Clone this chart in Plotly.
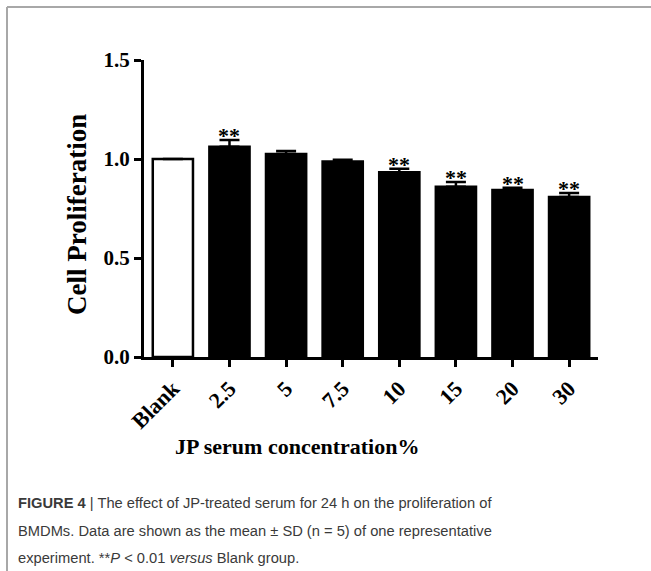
import plotly.graph_objects as go

categories = ["Blank", "2.5", "5", "7.5", "10", "15", "20", "30"]
means = [1.000, 1.062, 1.025, 0.988, 0.933, 0.860, 0.843, 0.808]
sds = [0.0, 0.034, 0.015, 0.008, 0.018, 0.024, 0.012, 0.020]
significant = [False, True, False, False, True, True, True, True]
fill_colors = ["white"] + ["black"] * 7
y_ticks = [0, 0.5, 1.0, 1.5]
y_tick_labels = ["0.0", "0.5", "1.0", "1.5"]

W, H = 651, 571
L, R, T, B = 144, 53, 60, 214
PW, PH = W - L - R, H - T - B

def px(x):
    return (x - L) / PW

def py(y):
    return (H - B - y) / PH

SERIF = "Liberation Serif, Times New Roman, serif"
SANS = "Liberation Sans, Arial, sans-serif"

idx = list(range(len(categories)))

fig = go.Figure()
fig.add_trace(go.Bar(
    x=idx, y=means, width=0.71,
    marker=dict(color=fill_colors, line=dict(color="black", width=2.5)),
    error_y=dict(type="data", array=sds, arrayminus=[0] * len(sds), symmetric=False,
                 color="black", thickness=2.5, width=10),
    showlegend=False,
))

annotations = []
for i, m, s, sig in zip(idx, means, sds, significant):
    if sig:
        annotations.append(dict(x=i, y=m + s, xref="x", yref="y", text="<b>**</b>",
                                showarrow=False, yanchor="bottom", yshift=-10,
                                font=dict(family=SERIF, size=22, color="black")))

annotations.append(dict(x=px(297), y=py(446), xref="paper", yref="paper",
                        text="<b>JP serum concentration%</b>", showarrow=False,
                        xanchor="center", yanchor="middle",
                        font=dict(family=SERIF, size=22, color="black")))
annotations.append(dict(x=px(77), y=py(215), xref="paper", yref="paper",
                        text="<b>Cell Proliferation</b>", showarrow=False, textangle=-90,
                        xanchor="center", yanchor="middle",
                        font=dict(family=SERIF, size=27, color="black")))

caption = [
    "<b>FIGURE 4</b> | The effect of JP-treated serum for 24 h on the proliferation of",
    "BMDMs. Data are shown as the mean ± SD (n = 5) of one representative",
    "experiment. **<i>P</i> &lt; 0.01 <i>versus</i> Blank group.",
]
for i, line in enumerate(caption):
    annotations.append(dict(x=px(16), y=py(503 + i * 27.5), xref="paper", yref="paper",
                            text=line, showarrow=False, xanchor="left", yanchor="middle",
                            font=dict(family=SANS, size=14.7, color="#3a3a3a")))

shapes = [
    dict(type="line", xref="paper", yref="paper", x0=px(7), x1=px(7), y0=py(7), y1=py(571),
         line=dict(color="#a8a8a8", width=2)),
    dict(type="line", xref="paper", yref="paper", x0=px(7), x1=px(651), y0=py(7), y1=py(7),
         line=dict(color="#a8a8a8", width=2)),
]

fig.update_layout(
    width=W, height=H,
    margin=dict(l=L, r=R, t=T, b=B),
    paper_bgcolor="white", plot_bgcolor="white",
    annotations=annotations, shapes=shapes,
    xaxis=dict(range=[-0.51, 7.51], tickvals=idx, ticktext=categories,
               showline=True, linecolor="black", linewidth=3,
               ticks="outside", ticklen=7, tickwidth=2.5, tickcolor="black",
               tickangle=-45, showgrid=False, zeroline=False,
               tickfont=dict(family=SERIF, size=22, color="black", weight="bold")),
    yaxis=dict(range=[0, 1.5], tickvals=y_ticks, ticktext=y_tick_labels,
               showline=True, linecolor="black", linewidth=3,
               ticks="outside", ticklen=7, tickwidth=2.5, tickcolor="black",
               showgrid=False, zeroline=False,
               tickfont=dict(family=SERIF, size=21, color="black", weight="bold")),
)

fig.write_html("out.html")
